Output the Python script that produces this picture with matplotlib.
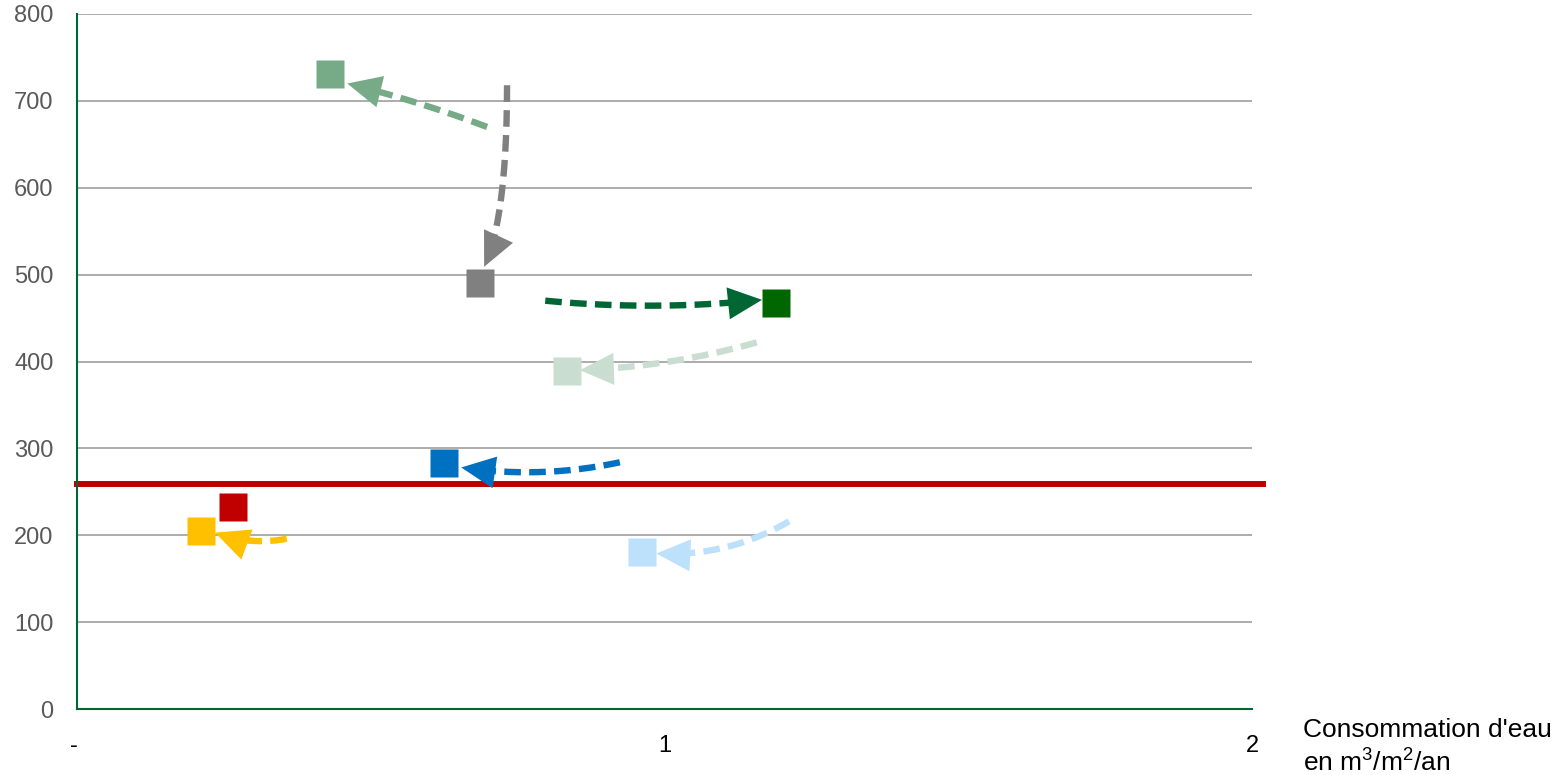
import numpy as np
import matplotlib
matplotlib.use("Agg")
import matplotlib.pyplot as plt
from matplotlib.patches import Polygon

plt.rcParams['font.family'] = ['Liberation Sans', 'DejaVu Sans']
plt.rcParams['mathtext.fontset'] = 'custom'
plt.rcParams['mathtext.rm'] = 'Liberation Sans'
plt.rcParams['mathtext.it'] = 'Liberation Sans'
plt.rcParams['mathtext.default'] = 'rm'

# Positions actuelles (consommation d'eau, valeur)
pt_x = [0.430, 0.686, 1.189, 0.834, 0.624, 0.265, 0.211, 0.961]
pt_y = [731, 490, 467, 389, 283, 232, 205, 181]
pt_couleurs = ['#77AB88', '#808080', '#006600', '#C9DED1',
               '#0070C0', '#C00000', '#FFC000', '#BDE1FB']

# Flèches d'évolution : départ -> arrivée, courbure, position du point de contrôle
fl_x0 = [0.698, 0.732, 0.797, 1.157, 0.924, 1.212, 0.357]
fl_y0 = [670, 718, 470, 422, 284, 216, 196]
fl_x1 = [0.460, 0.693, 1.166, 0.856, 0.654, 0.986, 0.235]
fl_y1 = [720, 509, 471, 390, 278, 179, 203]
fl_rad = [-0.03, 0.09, -0.05, 0.06, 0.09, 0.15, 0.14]
fl_pos = [0.5, 0.72, 0.5, 0.5, 0.5, 0.5, 0.5]
fl_couleurs = ['#77AB88', '#808080', '#006633', '#C9DED1',
               '#0070C0', '#BDE1FB', '#FFC000']

seuil = 259

x_ticks = [0, 1, 2]
x_labels = ['- ', '1', '2']
y_ticks = list(range(0, 801, 100))


def fleche(ax, x0, y0, x1, y1, rad, pos, couleur, L=34, W=16):
    """Flèche courbe en pointillés avec une tête pleine"""
    tr = ax.transData
    p0 = tr.transform((x0, y0))
    p2 = tr.transform((x1, y1))
    d = p2 - p0
    perp = np.array([-d[1], d[0]])
    p1 = p0 + pos * d + rad * perp
    t = np.linspace(0, 1, 300)[:, None]
    courbe = (1 - t) ** 2 * p0 + 2 * (1 - t) * t * p1 + t ** 2 * p2
    u = p2 - p1
    u = u / np.linalg.norm(u)
    base = p2 - L * u
    garde = np.linalg.norm(courbe - p2, axis=1) >= L - 3
    ligne = tr.inverted().transform(courbe[garde])
    ax.plot(ligne[:, 0], ligne[:, 1], color=couleur, lw=4.6,
            ls=(0, (2.6, 1.3)), dash_capstyle='butt', zorder=3)
    n = np.array([-u[1], u[0]])
    tri = np.array([p2, base + W * n, base - W * n])
    ax.add_patch(Polygon(tr.inverted().transform(tri), closed=True,
                         facecolor=couleur, edgecolor='none', zorder=3))


fig = plt.figure(figsize=(15.54, 7.75), dpi=100)
ax = fig.add_axes([77 / 1554, 66 / 775, 1175 / 1554, 695 / 775])
ax.set_xlim(0, 2)
ax.set_ylim(0, 800)

ax.set_yticks(y_ticks)
ax.set_xticks(x_ticks)
ax.set_xticklabels(x_labels)
ax.tick_params(axis='y', length=0, pad=17, labelsize=17, labelcolor='#595959')
ax.tick_params(axis='x', length=0, pad=19, labelsize=17, labelcolor='black')

ax.grid(axis='y', color='#A6A6A6', lw=1.3)
ax.set_axisbelow(True)
for cote in ['top', 'right']:
    ax.spines[cote].set_visible(False)
for cote in ['left', 'bottom']:
    ax.spines[cote].set_color('#006633')
    ax.spines[cote].set_linewidth(1.5)

# Seuil
ax.axhline(seuil, xmin=0, xmax=1.0094, color='#C00000', lw=4.3,
           clip_on=False, zorder=2)

for i in range(len(fl_x0)):
    fleche(ax, fl_x0[i], fl_y0[i], fl_x1[i], fl_y1[i], fl_rad[i], fl_pos[i],
           fl_couleurs[i])

for x, y, c in zip(pt_x, pt_y, pt_couleurs):
    ax.plot(x, y, marker='s', markersize=19.5, color=c, mec='none',
            ls='none', zorder=4)

fig.text(1303 / 1554, 1 - 730 / 775, "Consommation d'eau", va='center',
         ha='left', fontsize=19)
fig.text(1303 / 1554, 1 - 763 / 775, "en m$^3$/m$^2$/an", va='center',
         ha='left', fontsize=19)

fig.savefig('out.png', dpi=100)
